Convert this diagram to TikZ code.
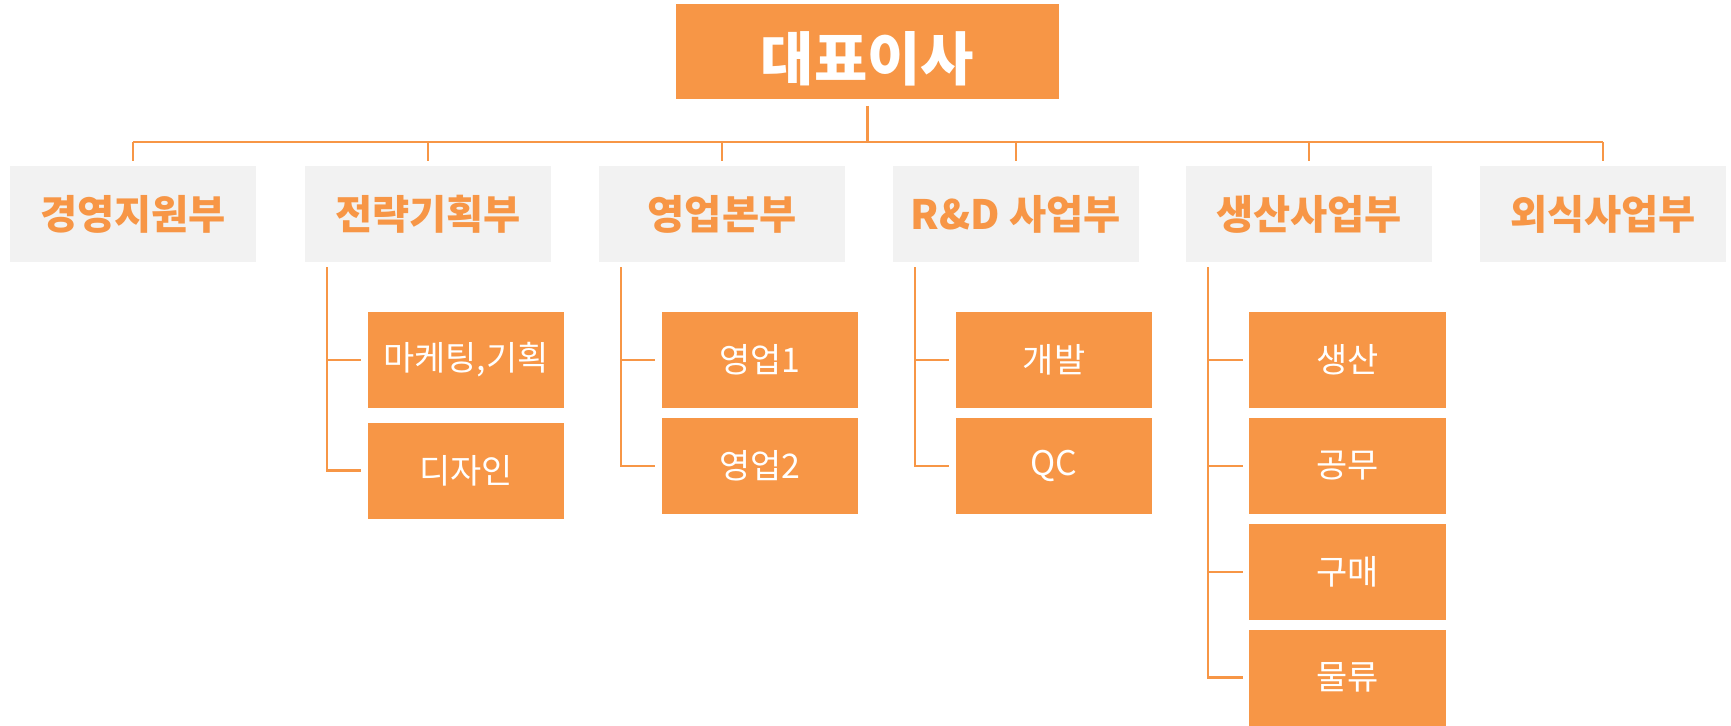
\documentclass[tikz,border=0pt]{standalone}
\usepackage{fontspec}
\setmainfont{Noto Sans CJK KR}
\definecolor{boxorange}{HTML}{F79646}
\definecolor{boxgray}{HTML}{F2F2F2}

\begin{document}
\begin{tikzpicture}[x=0.02cm, y=-0.02cm,
    ceo/.style={fill=boxorange, text=white, minimum width=7.66cm, minimum height=1.9cm,
      inner sep=0pt, text height=1.24cm, text depth=0.08cm,
      font=\fontsize{33}{40}\selectfont\bfseries},
    dept/.style={fill=boxgray, text=boxorange, minimum width=4.94cm, minimum height=1.92cm,
      font=\fontsize{23}{28}\selectfont\bfseries},
    team/.style={fill=boxorange, text=white, minimum width=3.94cm, minimum height=1.92cm,
      font=\fontsize{19.3}{23}\selectfont},
    link/.style={draw=boxorange, line width=1.2pt}]
	\useasboundingbox (0,0) rectangle (1731,725);
	
	% 대표이사
	\node[ceo] (ceo) at (867.5,51) {대표이사};
	\coordinate (bus) at (0,142);
	
	% 부서
	\node[dept] (d1) at (133,214) {경영지원부};
	\node[dept] (d2) at (428,214) {전략기획부};
	\node[dept] (d3) at (722,214) {영업본부};
	\node[dept] (d4) at (1016,214) {R\&D 사업부};
	\node[dept] (d5) at (1309,214) {생산사업부};
	\node[dept] (d6) at (1603,214) {외식사업부};
	
	% 팀
	\node[team] (t21) at (466,360) {마케팅,기획};
	\node[team] (t22) at (466,470.5) {디자인};
	\node[team] (t31) at (760,360) {영업1};
	\node[team] (t32) at (760,466) {영업2};
	\node[team] (t41) at (1054,360) {개발};
	\node[team] (t42) at (1054,466) {QC};
	\node[team] (t51) at (1347.5,360) {생산};
	\node[team] (t52) at (1347.5,466) {공무};
	\node[team] (t53) at (1347.5,572) {구매};
	\node[team] (t54) at (1347.5,677.5) {물류};
	
	% 연결선
	\draw[link] ([yshift=-0.14cm]ceo.south) -- (ceo.south |- bus);
	\draw[link] (d1.north |- bus) -- (d6.north |- bus);
	\foreach \d in {d1,d2,d3,d4,d5,d6}
		\draw[link, shorten >=0.1cm] (\d.north |- bus) -- (\d.north);
	\foreach \d/\t in {d2/t21,d2/t22,d3/t31,d3/t32,d4/t41,d4/t42,d5/t51,d5/t52,d5/t53,d5/t54}
		\draw[link, shorten >=0.12cm] ([xshift=0.46cm,yshift=-0.1cm]\d.south west) |- (\t.west);
\end{tikzpicture}
\end{document}
